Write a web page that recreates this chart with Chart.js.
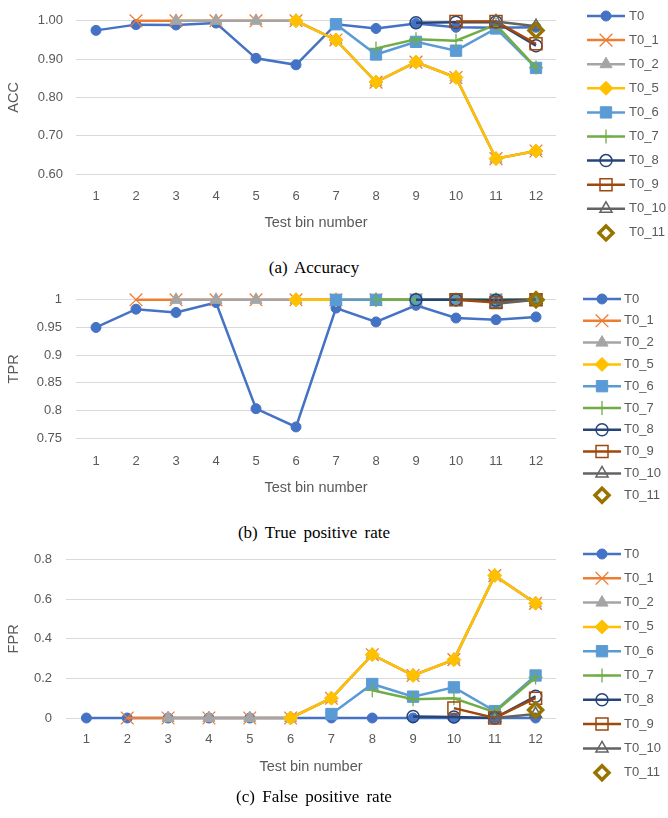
<!DOCTYPE html>
<html>
<head>
<meta charset="utf-8">
<script src="https://cdn.jsdelivr.net/npm/chart.js"></script>
<style>
  body { margin: 0; background: #fff; }
  #page { position: relative; width: 668px; height: 818px; }
  canvas { position: absolute; left: 0; }
  .cap { position: absolute; left: 0; width: 628px; text-align: center;
         font-family: 'Liberation Serif', 'Times New Roman', serif; font-size: 17px; color: #000; word-spacing: 3px; }
</style>
</head>
<body>
<div id="page">
  <canvas id="accChart" width="668" height="246" style="top:0px"></canvas>
  <div class="cap" style="top:258px">(a) Accuracy</div>
  <canvas id="tprChart" width="668" height="233" style="top:278px"></canvas>
  <div class="cap" style="top:523px">(b) True positive rate</div>
  <canvas id="fprChart" width="668" height="252" style="top:538px"></canvas>
  <div class="cap" style="top:787px">(c) False positive rate</div>
</div>
<script>
// Datos
const bins = ['1', '2', '3', '4', '5', '6', '7', '8', '9', '10', '11', '12'];
const seriesNames = ['T0', 'T0_1', 'T0_2', 'T0_5', 'T0_6', 'T0_7', 'T0_8', 'T0_9', 'T0_10', 'T0_11'];

// (a) ACC
const accT0   = [0.975, 0.990, 0.989, 0.994, 0.902, 0.885, 0.991, 0.980, 0.993, 0.983, 0.982, 0.983];
const accT0_1 = [null, 1, 1, 1, 1, 1, 0.950, 0.840, 0.892, 0.852, 0.640, 0.660];
const accT0_2 = [null, null, 1, 1, 1, 1, 0.950, 0.840, 0.892, 0.852, 0.640, 0.660];
const accT0_5 = [null, null, null, null, null, 1, 0.950, 0.840, 0.892, 0.852, 0.640, 0.660];
const accT0_6 = [null, null, null, null, null, null, 0.991, 0.912, 0.945, 0.922, 0.980, 0.877];
const accT0_7 = [null, null, null, null, null, null, null, 0.928, 0.952, 0.948, 0.990, 0.878];
const accT0_8 = [null, null, null, null, null, null, null, null, 0.995, 0.996, 0.997, 0.935];
const accT0_9 = [null, null, null, null, null, null, null, null, null, 0.998, 0.998, 0.940];
const accT0_10 = [null, null, null, null, null, null, null, null, null, null, 0.998, 0.986];
const accT0_11 = [null, null, null, null, null, null, null, null, null, null, null, 0.975];
const accTicks = { min: 0.6, max: 1.0, step: 0.1 };

// (b) TPR
const tprT0   = [0.950, 0.983, 0.977, 0.995, 0.803, 0.770, 0.985, 0.960, 0.990, 0.967, 0.964, 0.969];
const tprT0_1 = [null, 1, 1, 1, 1, 1, 1, 1, 1, 1, 1, 1];
const tprT0_2 = [null, null, 1, 1, 1, 1, 1, 1, 1, 1, 1, 1];
const tprT0_5 = [null, null, null, null, null, 1, 1, 1, 1, 1, 1, 1];
const tprT0_6 = [null, null, null, null, null, null, 1, 1, 1, 1, 1, 1];
const tprT0_7 = [null, null, null, null, null, null, null, 1, 1, 1, 1, 1];
const tprT0_8 = [null, null, null, null, null, null, null, null, 1, 1, 0.999, 1];
const tprT0_9 = [null, null, null, null, null, null, null, null, null, 1, 0.995, 1];
const tprT0_10 = [null, null, null, null, null, null, null, null, null, null, 0.993, 1];
const tprT0_11 = [null, null, null, null, null, null, null, null, null, null, null, 1];
const tprTicks = { min: 0.75, max: 1.0, step: 0.05 };

// (c) FPR
const fprT0   = [0, 0, 0, 0, 0, 0, 0, 0, 0, 0, 0, 0];
const fprT0_1 = [null, 0, 0, 0, 0, 0, 0.100, 0.320, 0.215, 0.295, 0.720, 0.580];
const fprT0_2 = [null, null, 0, 0, 0, 0, 0.100, 0.320, 0.215, 0.295, 0.720, 0.580];
const fprT0_5 = [null, null, null, null, null, 0, 0.100, 0.320, 0.215, 0.295, 0.720, 0.580];
const fprT0_6 = [null, null, null, null, null, null, 0.020, 0.172, 0.108, 0.155, 0.035, 0.215];
const fprT0_7 = [null, null, null, null, null, null, null, 0.140, 0.095, 0.100, 0.030, 0.205];
const fprT0_8 = [null, null, null, null, null, null, null, null, 0.008, 0.005, 0, 0.110];
const fprT0_9 = [null, null, null, null, null, null, null, null, null, 0.050, 0, 0.100];
const fprT0_10 = [null, null, null, null, null, null, null, null, null, null, 0, 0.020];
const fprT0_11 = [null, null, null, null, null, null, null, null, null, null, null, 0.040];
const fprTicks = { min: 0, max: 0.8, step: 0.2 };

// Estilo de cada serie (colores de Office)
const markStyles = [
  { color: '#4472C4', point: 'circle',   r: 5,   bw: 1,   fill: true },
  { color: '#ED7D31', point: 'crossRot', r: 9,   bw: 1.3, fill: false },
  { color: '#A5A5A5', point: 'triangle', r: 7,   bw: 1,   fill: true },
  { color: '#FFC000', point: 'rectRot',  r: 7,   bw: 1,   fill: true },
  { color: '#5B9BD5', point: 'rect',     r: 8,   bw: 1,   fill: true },
  { color: '#70AD47', point: 'cross',    r: 7,   bw: 1.3, fill: false },
  { color: '#264478', point: 'circle',   r: 6,   bw: 1.5, fill: false },
  { color: '#9E480E', point: 'rect',     r: 8.5, bw: 1.5, fill: false },
  { color: '#636363', point: 'triangle', r: 7,   bw: 1.5, fill: false },
  { color: '#997300', point: 'rectRot',  r: 7,   bw: 3.5, fill: false, noLine: true }
];

Chart.defaults.font.family = "'Liberation Sans', Arial, sans-serif";
Chart.defaults.color = '#595959';

// Leyenda dibujada a mano: línea + marcador como en Excel
const seriesKey = {
  id: 'seriesKey',
  afterDraw(chart, args, opts) {
    const ctx = chart.ctx;
    ctx.save();
    chart.data.datasets.forEach(function(ds, i) {
      const y = opts.y0 + i * opts.step;
      const xm = (opts.x0 + opts.x1) / 2;
      if (ds.showLine !== false) {
        ctx.strokeStyle = ds.borderColor;
        ctx.lineWidth = ds.borderWidth;
        ctx.beginPath();
        ctx.moveTo(opts.x0, y);
        ctx.lineTo(opts.x1, y);
        ctx.stroke();
      }
      ctx.strokeStyle = ds.pointBorderColor;
      ctx.fillStyle = ds.pointBackgroundColor;
      ctx.lineWidth = ds.pointBorderWidth;
      Chart.helpers.drawPoint(ctx, {
        pointStyle: ds.pointStyle, radius: ds.pointRadius, rotation: 0, borderWidth: ds.pointBorderWidth
      }, xm, y);
      ctx.fillStyle = '#595959';
      ctx.font = "13px 'Liberation Sans', Arial, sans-serif";
      ctx.textBaseline = 'middle';
      ctx.textAlign = 'left';
      ctx.fillText(ds.label, opts.tx, y);
    });
    ctx.restore();
  }
};

function makeSets(values) {
  return seriesNames.map(function(name, i) {
    const st = markStyles[i];
    return {
      label: name,
      data: values[i],
      borderColor: st.color,
      borderWidth: 2.5,
      showLine: !st.noLine,
      pointStyle: st.point,
      pointRadius: st.r,
      pointHoverRadius: st.r,
      pointBorderWidth: st.bw,
      pointBorderColor: st.color,
      pointBackgroundColor: st.fill ? st.color : 'rgba(0,0,0,0)',
      tension: 0,
      clip: false,
      order: -i
    };
  });
}

function buildChart(id, sets, yTitle, t, p) {
  return new Chart(document.getElementById(id), {
    type: 'line',
    data: { labels: bins, datasets: sets },
    options: {
      responsive: false,
      animation: false,
      layout: { padding: { top: p.padTop, right: 112, left: 0, bottom: 10 } },
      plugins: { legend: { display: false }, tooltip: { enabled: false }, seriesKey: p.key },
      scales: {
        x: {
          offset: true,
          grid: { display: false, drawTicks: false },
          border: { display: false },
          ticks: { padding: p.xPad, font: { size: 13 }, color: '#595959', maxRotation: 0, autoSkip: false },
          title: { display: true, text: 'Test bin number', font: { size: 14.5 }, color: '#595959', padding: { top: 0, bottom: 4 } },
          afterFit: function(s) { s.height = p.xH; }
        },
        y: {
          min: t.min,
          max: t.max,
          ticks: {
            stepSize: t.step,
            padding: p.yPad,
            font: { size: 13 },
            color: '#595959',
            callback: p.fmt
          },
          grid: { color: '#D9D9D9', lineWidth: 1, drawTicks: false },
          border: { display: false },
          title: { display: true, text: yTitle, font: { size: 14.5 }, color: '#595959', padding: { top: 5, bottom: 0 } },
          afterFit: function(s) { s.width = p.yW; }
        }
      }
    },
    plugins: [seriesKey]
  });
}

const shortFmt = function(v) { return String(+v.toFixed(2)); };

buildChart('accChart',
  makeSets([accT0, accT0_1, accT0_2, accT0_5, accT0_6, accT0_7, accT0_8, accT0_9, accT0_10, accT0_11]),
  'ACC', accTicks,
  { padTop: 17, xH: 62, xPad: 15, yPad: 13, yW: 76,
    fmt: function(v) { return v.toFixed(2); },
    key: { x0: 587, x1: 625, tx: 629, y0: 16, step: 24.1 } });

buildChart('tprChart',
  makeSets([tprT0, tprT0_1, tprT0_2, tprT0_5, tprT0_6, tprT0_7, tprT0_8, tprT0_9, tprT0_10, tprT0_11]),
  'TPR', tprTicks,
  { padTop: 15, xH: 63, xPad: 16, yPad: 14, yW: 76, fmt: shortFmt,
    key: { x0: 583, x1: 621, tx: 624, y0: 21, step: 21.8 } });

buildChart('fprChart',
  makeSets([fprT0, fprT0_1, fprT0_2, fprT0_5, fprT0_6, fprT0_7, fprT0_8, fprT0_9, fprT0_10, fprT0_11]),
  'FPR', fprTicks,
  { padTop: 14, xH: 62, xPad: 14, yPad: 14, yW: 66, fmt: shortFmt,
    key: { x0: 583, x1: 621, tx: 624, y0: 16, step: 24.3 } });
</script>
</body>
</html>
